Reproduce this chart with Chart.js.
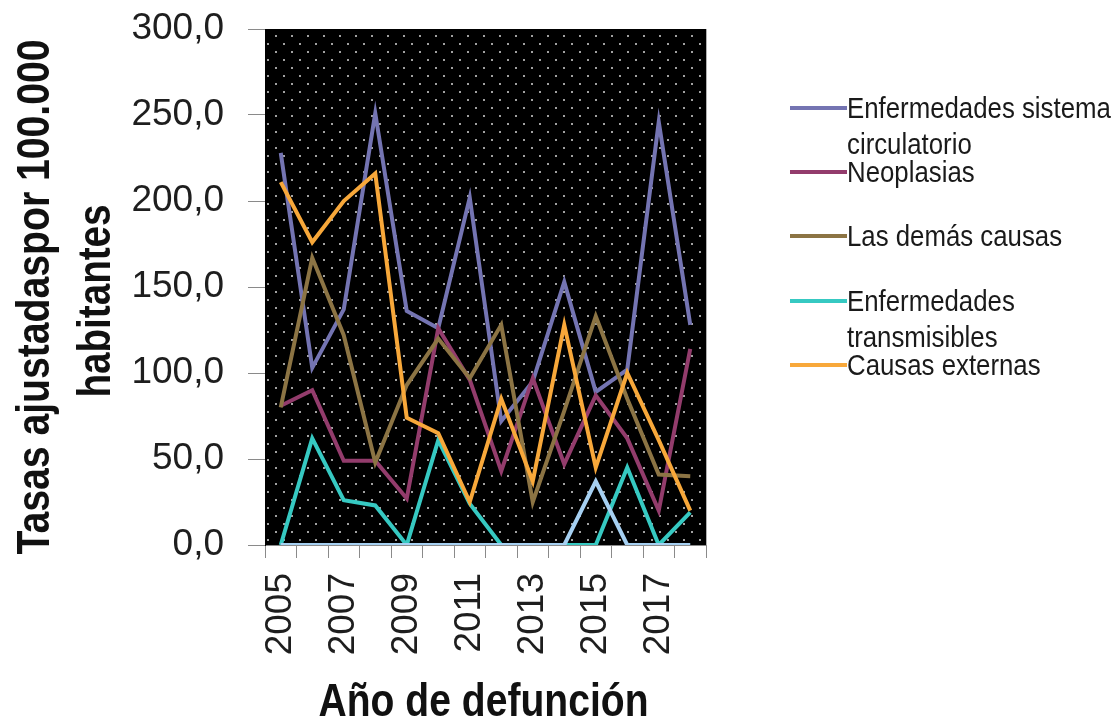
<!DOCTYPE html>
<html>
<head>
<meta charset="utf-8">
<script src="https://cdn.jsdelivr.net/npm/chart.js@4.4.1/dist/chart.umd.min.js"></script>
<style>
  html, body { margin: 0; padding: 0; background: #fff; }
  .wrap { position: relative; width: 1118px; height: 720px; }
  #legend { position: absolute; left: 0; top: 0; }
  .leg-item { position: absolute; left: 790px; display: flex; align-items: flex-start; }
  .leg-line { width: 57px; height: 4px; margin-top: 16px; flex: none; }
  .leg-text { font-family: 'Liberation Sans', Arial, sans-serif; font-size: 30px; line-height: 36px; color: #1a1a1a;
              width: 312px; transform: scaleX(0.86); transform-origin: left top; }
</style>
</head>
<body>
<div class="wrap">
  <canvas id="chart" width="1118" height="720"></canvas>
  <div id="legend"></div>
</div>
<script>
// Tasas ajustadas por 100.000 habitantes, 2005-2018
const years = ['2005', '2006', '2007', '2008', '2009', '2010', '2011', '2012', '2013', '2014', '2015', '2016', '2017', '2018'];

const circulatorio  = [228, 103, 137, 251, 136, 126, 202, 72, 95, 153, 89, 102, 246, 128];
const neoplasias    = [81, 90, 49, 49, 27, 126, 96, 43, 97, 47, 87, 62, 20, 114];
const demasCausas   = [80, 167, 122, 48, 93, 120, 97, 128, 25, 78, 133, 85, 41, 40];
const transmisibles = [0, 62, 26, 23, 0, 61, 24, 0, 0, 0, 0, 45, 0, 19];
const externas      = [211, 176, 200, 216, 74, 65, 25, 85, 37, 128, 45, 100, 61, 20];
const perinatal     = [0, 0, 0, 0, 0, 0, 0, 0, 0, 0, 37, 0, 0, 0];

const yTicks = [0, 50, 100, 150, 200, 250, 300];

const seriesNames = ['Enfermedades sistema circulatorio', 'Neoplasias', 'Las demás causas',
  'Enfermedades transmisibles', 'Causas externas', 'Afecciones periodo perinatal'];
const seriesData = [circulatorio, neoplasias, demasCausas, transmisibles, externas, perinatal];
const seriesColors = ['#7474b2', '#933c6c', '#8c7444', '#36c9c2', '#f8a83a', '#a6d0f2'];
const inLegend = [true, true, true, true, true, false];

const xTitle = 'Año de defunción';
const yTitle = ['Tasas ajustadaspor 100.000', 'habitantes'];

// dotted black background of the plot area
function makePattern(ctx) {
  const c = document.createElement('canvas');
  c.width = 16; c.height = 16;
  const g = c.getContext('2d');
  g.fillStyle = '#000';
  g.fillRect(0, 0, 16, 16);
  g.fillStyle = '#a2a2a2';
  g.fillRect(3, 3, 2, 2);
  g.fillRect(11, 11, 2, 2);
  return ctx.createPattern(c, 'repeat');
}

const plotBackground = {
  id: 'plotBackground',
  beforeDraw(chart) {
    const { ctx, chartArea: a } = chart;
    ctx.save();
    ctx.fillStyle = makePattern(ctx);
    ctx.fillRect(a.left, a.top, a.right - a.left, a.bottom - a.top);
    ctx.strokeStyle = '#b0b0b0';
    ctx.lineWidth = 1;
    ctx.beginPath();
    ctx.moveTo(a.right + 0.5, a.top);
    ctx.lineTo(a.right + 0.5, a.bottom);
    ctx.stroke();
    ctx.restore();
  }
};

// condensed bold axis titles (squeezed with fillText maxWidth)
const axisTitles = {
  id: 'axisTitles',
  afterDraw(chart) {
    const { ctx, chartArea: a } = chart;
    ctx.save();
    ctx.fillStyle = '#111';
    ctx.font = "bold 47px 'Liberation Sans', Arial, sans-serif";
    ctx.textAlign = 'center';
    ctx.textBaseline = 'alphabetic';
    ctx.fillText(xTitle, (a.left + a.right) / 2 - 2, 716, 330);

    ctx.translate(0, (a.top + a.bottom) / 2 + 10);
    ctx.rotate(-Math.PI / 2);
    ctx.fillText(yTitle[0], 0, 49, 515);
    ctx.fillText(yTitle[1], -4, 110, 193);
    ctx.restore();
  }
};

const datasets = seriesNames.map((name, i) => ({
  label: name,
  data: seriesData[i],
  borderColor: seriesColors[i],
  backgroundColor: seriesColors[i],
  borderWidth: 4,
  pointRadius: 0,
  tension: 0,
  order: seriesNames.length - i
}));

const tickFont = { family: "'Liberation Sans', Arial, sans-serif", size: 37 };

new Chart(document.getElementById('chart'), {
  type: 'line',
  data: { labels: years, datasets: datasets },
  options: {
    responsive: false,
    animation: false,
    layout: { padding: { top: 29, right: 412, left: 0, bottom: 0 } },
    plugins: { legend: { display: false }, tooltip: { enabled: false } },
    scales: {
      x: {
        offset: true,
        grid: { offset: true, drawOnChartArea: false, color: '#8a8a8a', tickLength: 13 },
        border: { color: '#8a8a8a' },
        ticks: {
          autoSkip: false,
          minRotation: 90,
          maxRotation: 90,
          padding: 15,
          color: '#1e1e1e',
          font: tickFont,
          callback: function(val, i) { return i % 2 === 0 ? this.getLabelForValue(val) : ''; }
        },
        afterFit: function(scale) {
          scale.height = 175;
          scale.paddingLeft = 0;
          scale.paddingRight = 0;
        }
      },
      y: {
        min: 0,
        max: 300,
        afterBuildTicks: function(scale) { scale.ticks = yTicks.map(v => ({ value: v })); },
        grid: { drawOnChartArea: false, color: '#8a8a8a', tickLength: 17 },
        border: { color: '#000' },
        ticks: {
          padding: 24,
          color: '#1e1e1e',
          font: tickFont,
          callback: v => v.toFixed(1).replace('.', ',')
        },
        afterFit: function(scale) {
          scale.width = 265;
          scale.paddingTop = 0;
          scale.paddingBottom = 0;
        }
      }
    }
  },
  plugins: [plotBackground, axisTitles]
});

// legend (Excel style, fixed slot per entry)
const legendTops = [90, 154, 218, 283, 347];
const legendEl = document.getElementById('legend');
let k = 0;
seriesNames.forEach((name, i) => {
  if (!inLegend[i]) return;
  const item = document.createElement('div');
  item.className = 'leg-item';
  item.style.top = legendTops[k++] + 'px';
  const line = document.createElement('div');
  line.className = 'leg-line';
  line.style.background = seriesColors[i];
  const txt = document.createElement('div');
  txt.className = 'leg-text';
  txt.textContent = name;
  item.appendChild(line);
  item.appendChild(txt);
  legendEl.appendChild(item);
});
</script>
</body>
</html>
